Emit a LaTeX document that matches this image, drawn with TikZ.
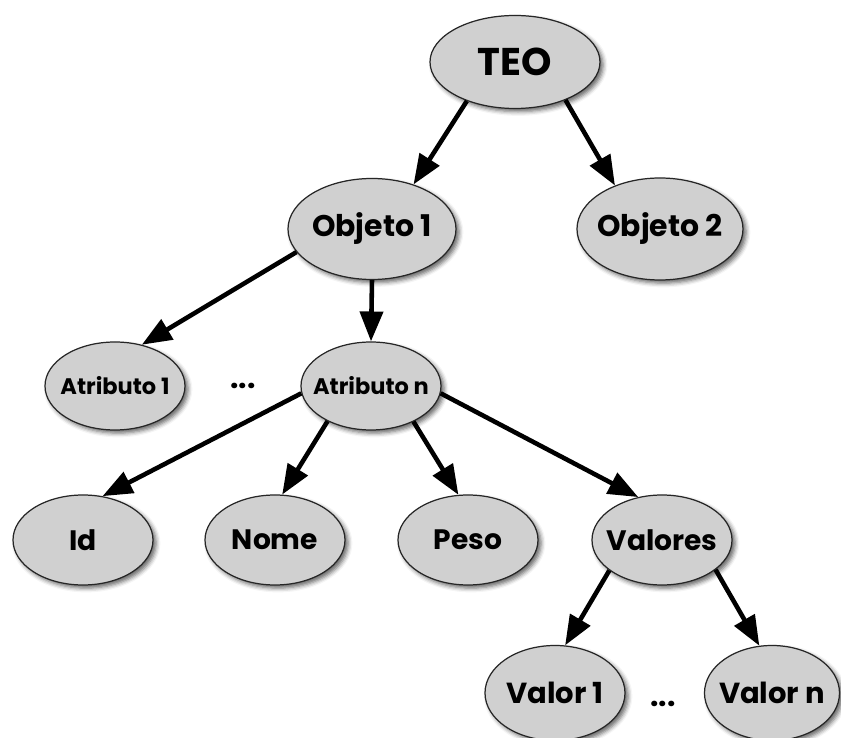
\documentclass[tikz,border=0pt]{standalone}
\usepackage{fontspec}
\setmainfont{Poppins}
\usepackage{xcolor}
\usetikzlibrary{shapes.geometric,arrows.meta,shadows.blur}

\definecolor{nodegray}{HTML}{D0D0D0}
\newcommand{\tlabel}[1]{\makebox[0pt]{#1}}

\tikzset{
  tnode/.style={ellipse, draw=black!85, line width=0.7pt, fill=nodegray, inner sep=0pt,
    blur shadow={shadow xshift=1.8pt, shadow yshift=-1.8pt, shadow blur radius=2.4pt, shadow opacity=60}},
  fsize/.style={font=\fontsize{#1}{#1}\selectfont\bfseries},
  tarrow/.style={line width=2.6pt, -{Triangle[length=17pt,width=13pt]}},
}

\begin{document}
\begin{tikzpicture}
\def\ya{-1.24}
\def\yb{-4.58}
\def\yc{-7.72}
\def\yd{-10.80}
\def\ye{-13.86}

\useasboundingbox (0,0) rectangle (16.82,-14.76);

% Draw the root
\node[tnode, fsize=22, minimum width=3.4cm, minimum height=1.86cm] (teo) at (10.30,\ya) {\tlabel{TEO}};

% Draw the objects
\node[tnode, fsize=17, minimum width=3.36cm, minimum height=2.02cm] (obj1) at (7.44,\yb) {\tlabel{Objeto 1}};
\node[tnode, fsize=17, minimum width=3.32cm, minimum height=2.04cm] (obj2) at (13.20,\yb) {\tlabel{Objeto 2}};

% Draw the attributes
\node[tnode, fsize=12.8, minimum width=2.8cm, minimum height=1.76cm] (attr1) at (2.30,\yc) {\tlabel{Atributo 1}};
\node[fsize=17] (dotsa) at (4.86,\yc) {...};
\node[tnode, fsize=12.8, minimum width=2.8cm, minimum height=1.76cm] (attrn) at (7.42,\yc) {\tlabel{Atributo n}};

% Draw the fields
\node[tnode, fsize=16, minimum width=2.8cm, minimum height=1.8cm] (id) at (1.66,\yd) {\tlabel{Id}};
\node[tnode, fsize=16, minimum width=2.8cm, minimum height=1.8cm] (nome) at (5.50,\yd) {\tlabel{Nome}};
\node[tnode, fsize=16, minimum width=2.8cm, minimum height=1.8cm] (peso) at (9.36,\yd) {\tlabel{Peso}};
\node[tnode, fsize=16, minimum width=2.8cm, minimum height=1.8cm] (valores) at (13.24,\yd) {\tlabel{Valores}};

% Draw the values
\node[tnode, fsize=16.5, minimum width=2.8cm, minimum height=1.9cm] (val1) at (11.10,\ye) {\tlabel{Valor 1}};
\node[fsize=17] (dotsb) at (13.26,\ye-0.22) {...};
\node[tnode, fsize=16.5, minimum width=2.7cm, minimum height=1.9cm] (valn) at (15.44,\ye) {\tlabel{Valor n}};

% Draw the arrows
\draw[tarrow] (teo.219) -- (obj1.47);
\draw[tarrow] (teo.323) -- (obj2.136);
\draw[tarrow] (obj1.197) -- (attr1.57);
\draw[tarrow] (obj1.south) -- (attrn.north);
\draw[tarrow] (attrn.186) -- (id.66);
\draw[tarrow] (attrn.219) -- (nome.81);
\draw[tarrow] (attrn.320) -- (peso.102);
\draw[tarrow] (attrn.354) -- (valores.119);
\draw[tarrow] (valores.210) -- (val1.78);
\draw[tarrow] (valores.331) -- (valn.105);
\end{tikzpicture}
\end{document}
